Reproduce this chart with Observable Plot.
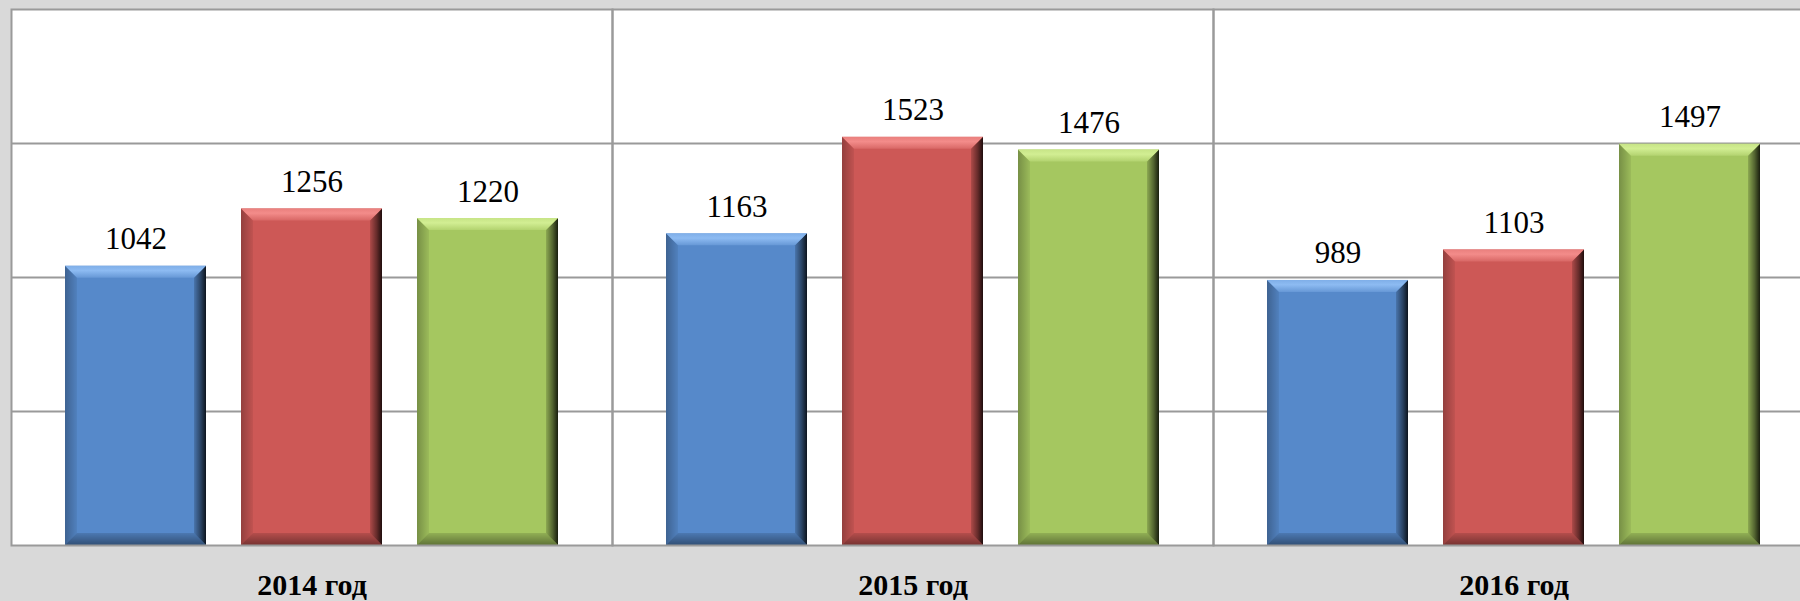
<!DOCTYPE html>
<html>
<head>
<meta charset="utf-8">
<script src="https://cdn.jsdelivr.net/npm/d3@7"></script>
<script src="https://cdn.jsdelivr.net/npm/@observablehq/plot@0.6"></script>
<style>
  html, body { margin: 0; padding: 0; background: #d9d9d9; overflow: hidden; }
  #wrap { width: 1800px; height: 601px; overflow: hidden; }
  #wrap svg { max-width: none !important; }
  #wrap svg text { font-family: "Liberation Serif", "Times New Roman", serif !important; }
</style>
</head>
<body>
<div id="wrap"></div>
<script>
// ---- data ----
const years = ["2014 год", "2015 год", "2016 год"];
const seriesNames = ["s1", "s2", "s3"];
const series1 = [1042, 1163, 989];
const series2 = [1256, 1523, 1103];
const series3 = [1220, 1476, 1497];
const seriesColors = ["#5689ca", "#cd5856", "#a5c760"];
const seriesLight = ["#8dbbf2", "#f38c8a", "#d2ee93"];
const gridValues = [500, 1000, 1500];

const seriesValues = [series1, series2, series3];
const rows = [];
years.forEach((yr, i) => {
  seriesNames.forEach((s, j) => {
    rows.push({year: yr, series: s, idx: j, value: seriesValues[j][i]});
  });
});

const font = "Liberation Serif";

// bevel render: decorate the rects Plot produced
function bevel(index, scales, values, dimensions, context, next) {
  const g = next(index, scales, values, dimensions, context);
  const ns = "http://www.w3.org/2000/svg";
  const rects = Array.from(g.querySelectorAll("rect"));
  rects.forEach((r, k) => {
    const x = +r.getAttribute("x"), y = +r.getAttribute("y");
    const w = +r.getAttribute("width"), h = +r.getAttribute("height");
    const i = index[k];
    const j = rows[i] ? rows[i].idx : 0;
    const b = Math.min(12, h / 2);
    const poly = (pts, fill) => {
      const p = document.createElementNS(ns, "polygon");
      p.setAttribute("points", pts.map(d => d.join(",")).join(" "));
      p.setAttribute("fill", fill);
      r.parentNode.appendChild(p);
    };
    poly([[x, y], [x + b, y + b], [x + b, y + h - b], [x, y + h]], "url(#gLeft)");
    poly([[x + w, y], [x + w, y + h], [x + w - b, y + h - b], [x + w - b, y + b]], "url(#gRight)");
    poly([[x, y + h], [x + w, y + h], [x + w - b, y + h - b], [x + b, y + h - b]], "url(#gBottom)");
    poly([[x, y], [x + w, y], [x + w - b, y + b], [x + b, y + b]], `url(#gTop${j})`);
  });
  return g;
}

const chart = Plot.plot({
  width: 1815,
  height: 601,
  marginLeft: 11,
  marginRight: 1,
  marginTop: 9,
  marginBottom: 56,
  style: {background: "#d9d9d9", fontFamily: font, maxWidth: "none"},
  fx: {domain: years, padding: 0, axis: null},
  x: {domain: seriesNames, paddingInner: 0.2, paddingOuter: 0.3, axis: null},
  y: {domain: [0, 2000], axis: null},
  color: {type: "identity"},
  marks: [
    Plot.frame({fill: "white", stroke: "none"}),
    Plot.ruleY(gridValues, {stroke: "#9a9a9a", strokeWidth: 2}),
    Plot.barY(rows, {
      fx: "year", x: "series", y: "value",
      fill: d => seriesColors[d.idx],
      render: bevel
    }),
    Plot.frame({stroke: "#9a9a9a", strokeWidth: 2}),
    Plot.text(rows, {
      fx: "year", x: "series", y: "value",
      text: d => String(d.value),
      lineAnchor: "bottom", dy: -17,
      fontSize: 31, fill: "black", fontFamily: font
    }),
    Plot.axisFx({
      anchor: "bottom", tickSize: 0, tickPadding: 28,
      fontSize: 30, fontWeight: "bold", fill: "black", fontFamily: font,
      label: null
    })
  ]
});

// gradient defs
const defs = d3.select(chart).insert("defs", ":first-child");
const lg = (id, x2, y2, stops) => {
  const g = defs.append("linearGradient").attr("id", id)
    .attr("x1", 0).attr("y1", 0).attr("x2", x2).attr("y2", y2);
  stops.forEach(([o, c, a]) => g.append("stop").attr("offset", o).attr("stop-color", c).attr("stop-opacity", a));
};
lg("gLeft", 1, 0, [[0, "#000", 0.28], [1, "#000", 0.06]]);
lg("gRight", 1, 0, [[0, "#000", 0.15], [0.55, "#000", 0.5], [1, "#000", 0.85]]);
lg("gBottom", 0, 1, [[0, "#000", 0.12], [1, "#000", 0.42]]);
seriesLight.forEach((c, j) => {
  lg(`gTop${j}`, 0, 1, [[0, c, 0.75], [0.4, c, 1], [1, c, 0.3]]);
});

document.getElementById("wrap").appendChild(chart);
</script>
</body>
</html>
